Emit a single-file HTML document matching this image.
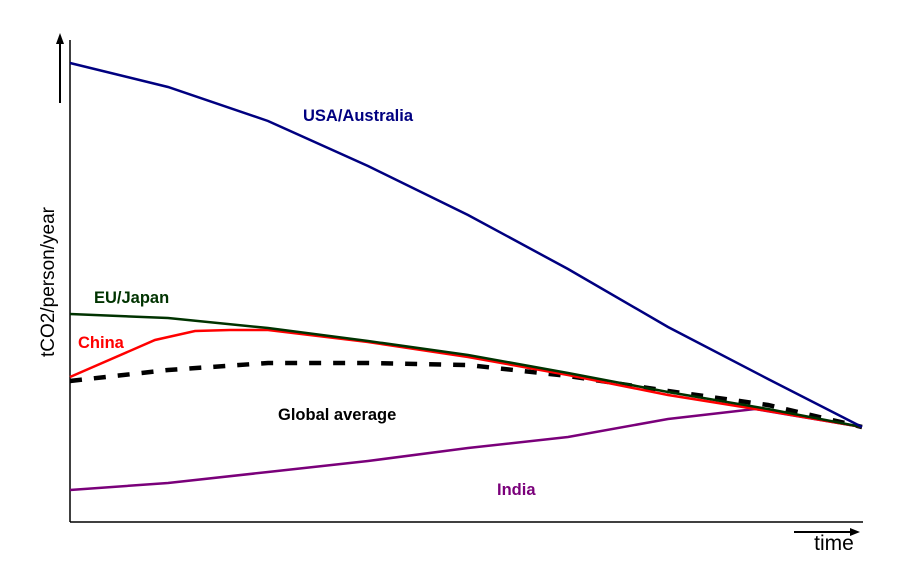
<!DOCTYPE html>
<html><head><meta charset="utf-8"><style>body{margin:0;background:#fff}svg{display:block}text{font-family:"Liberation Sans",sans-serif;font-weight:bold}</style></head><body>
<svg width="905" height="564" viewBox="0 0 905 564" xmlns="http://www.w3.org/2000/svg">
<line x1="70" y1="40" x2="70" y2="522" stroke="#000" stroke-width="1.5"/>
<line x1="70" y1="522" x2="863" y2="522" stroke="#000" stroke-width="1.5"/>
<line x1="60" y1="103" x2="60" y2="42" stroke="#000" stroke-width="2"/>
<polygon points="56,44 64,44 60,33" fill="#000"/>
<line x1="794" y1="532" x2="852" y2="532" stroke="#000" stroke-width="2"/>
<polygon points="850,528 850,536 860,532" fill="#000"/>
<text x="834" y="550" font-size="21" text-anchor="middle" style="font-weight:normal">time</text>
<text transform="translate(54,357) rotate(-90)" font-size="19" style="font-weight:normal">tCO2/person/year</text>
<polyline fill="none" stroke="#7a007a" stroke-width="2.5" points="70,490 168,483 268,472 368,461 468,448 568,437 668,419 755,409 862,427"/>
<polyline fill="none" stroke="#000" stroke-width="4.5" stroke-dasharray="12,12" points="70,381 168,370 268,363 368,363 468,365 568,376 668,391 768,405 862,427"/>
<polyline fill="none" stroke="#ff0000" stroke-width="2.5" points="70,377 155,340 195,331 230,330 268,330 368,342 468,357 568,375 668,395 768,411 862,427"/>
<polyline fill="none" stroke="#003300" stroke-width="2.5" points="70,314 168,318 268,328 368,341 468,355 568,373 668,392 768,409 862,427"/>
<polyline fill="none" stroke="#000080" stroke-width="2.5" points="70,63 168,87 268,121 368,166 468,215 568,269 668,327 768,379 862,427"/>
<text x="303" y="121" font-size="16.5" fill="#000080">USA/Australia</text>
<text x="94" y="303" font-size="16.5" fill="#003300">EU/Japan</text>
<text x="78" y="348" font-size="16.5" fill="#ff0000">China</text>
<text x="278" y="420" font-size="16.5" fill="#000">Global average</text>
<text x="497" y="495" font-size="16.5" fill="#7a007a">India</text>
</svg>
</body></html>
